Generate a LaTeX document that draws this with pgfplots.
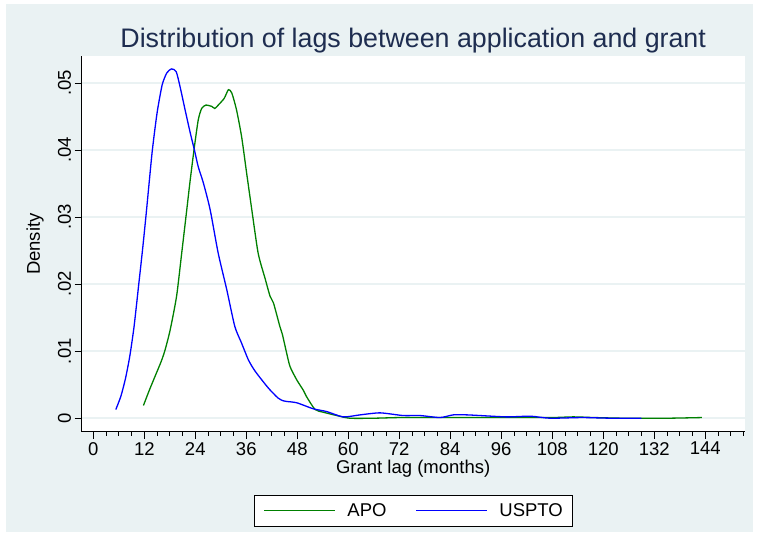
\documentclass[border=0pt]{standalone}
\usepackage{fontspec}
\setmainfont{Liberation Sans}
\usepackage{pgfplots}
\pgfplotsset{compat=1.18}
\definecolor{bgc}{RGB}{234,242,243}
\definecolor{gridc}{RGB}{234,242,243}
\definecolor{titlec}{RGB}{30,45,80}
\definecolor{apo}{RGB}{0,128,0}
\definecolor{uspto}{RGB}{0,0,255}
\pgfplotstableread{
m d
5.3 0.0013
6.5 0.0033
7.6 0.0060
8.6 0.0093
9.6 0.0137
10.7 0.0200
11.6 0.0252
12.4 0.0302
13.2 0.0355
13.9 0.0400
15.0 0.0455
16.2 0.0497
17.3 0.0515
18.4 0.0521
19.5 0.0517
20.4 0.0495
21.6 0.0460
22.8 0.0426
23.8 0.0400
24.7 0.0375
25.9 0.0351
27.5 0.0311
29.4 0.0246
31.4 0.0192
33.3 0.0137
34.9 0.0112
36.5 0.0087
38.1 0.0070
41.2 0.0045
43.5 0.0030
44.7 0.0026
45.5 0.0025
47.9 0.0023
51.8 0.0014
54.9 0.0010
58.8 0.0002
62.8 0.0005
67.5 0.0008
72.9 0.0004
76.9 0.0004
81.6 0.0001
84.7 0.0005
87.9 0.0005
91.0 0.0004
97.3 0.0002
102.9 0.0003
107.5 0.0000
115.0 0.0001
122.0 0.0000
129.0 0.0000
}\usptotab
\pgfplotstableread{
m d
11.8 0.0019
13.2 0.0042
14.5 0.0062
16.0 0.0085
16.9 0.0102
18.1 0.0132
19.6 0.0182
20.8 0.0246
22.0 0.0311
22.8 0.0355
23.8 0.0405
24.7 0.0445
25.5 0.0462
26.5 0.0467
27.9 0.0465
28.6 0.0462
29.4 0.0467
30.8 0.0477
31.8 0.0490
32.6 0.0485
33.7 0.0460
34.9 0.0420
36.1 0.0365
37.3 0.0311
38.8 0.0246
40.4 0.0209
41.6 0.0182
42.4 0.0172
43.9 0.0137
44.5 0.0125
45.4 0.0100
46.3 0.0077
47.9 0.0057
49.4 0.0042
50.2 0.0032
52.2 0.0013
54.1 0.0009
57.3 0.0004
60.4 0.0000
66.0 0.0000
72.0 0.0001
80.0 0.0001
90.0 0.0001
100.0 0.0001
108.0 0.0001
113.0 0.0002
118.0 0.0001
125.0 0.0000
135.0 0.0000
143.2 0.0001
}\apotab
\begin{document}
\begin{tikzpicture}
\useasboundingbox (-81.7bp,-110.3bp) rectangle (677.3bp,431.7bp);
\fill[white] (-81.7bp,-110.3bp) rectangle (677.3bp,431.7bp);
\fill[bgc] (-75.7bp,-100.3bp) rectangle (671.3bp,427.7bp);
\begin{axis}[
  at={(0bp,0bp)}, anchor=south west,
  scale only axis, width=663bp, height=375.2bp,
  xmin=-2.73, xmax=153.3, ymin=-0.00201, ymax=0.05395,
  axis background/.style={fill=white},
  axis x line*=bottom, axis y line*=left,
  axis line style={black, line width=0.8bp},
  xtick={0,12,...,144},
  minor xtick={3,6,9,15,18,21,27,30,33,39,42,45,51,54,57,63,66,69,75,78,81,87,90,93,99,102,105,111,114,117,123,126,129,135,138,141,147,150,153},
  ytick={0,0.01,0.02,0.03,0.04,0.05},
  yticklabels={0,.01,.02,.03,.04,.05},
  scaled y ticks=false,
  /pgf/number format/assume math mode=true,
  tick align=outside,
  major tick length=7bp, minor tick length=4bp,
  tick style={black, line width=0.8bp},
  ymajorgrids, grid style={gridc, line width=1.5bp},
  ticklabel style={font=\fontsize{18.5bp}{21bp}\selectfont},
  yticklabel style={rotate=90, anchor=south},
  xlabel={Grant lag (months)},
  xlabel style={font=\fontsize{18.5bp}{21bp}\selectfont, at={(axis description cs:0.5,-0.1127)}, anchor=base},
  ylabel={Density},
  ylabel style={font=\fontsize{18.5bp}{21bp}\selectfont, at={(axis description cs:-0.0704,0.5)}, anchor=center},
  title={Distribution of lags between application and grant},
  title style={font=\fontsize{26.8bp}{30bp}\selectfont, color=titlec, at={(axis description cs:0.5,1.008)}, anchor=base},
  legend columns=2,
  legend image code/.code={\draw[#1] (0bp,0bp) -- (71bp,0bp);},
  legend style={at={(axis description cs:0.5,-0.2106)}, anchor=center,
    draw=black, line width=0.8bp, fill=white,
    font=\fontsize{18.5bp}{21bp}\selectfont,
    inner xsep=9.5bp, inner ysep=8bp,
    nodes={inner sep=0bp},
    /tikz/every odd column/.append style={column sep=11.6bp},
    /tikz/every even column/.append style={column sep=29bp}},
]
\addplot[apo, line width=1.3bp, smooth, tension=0.4] table[x=m, y=d] {\apotab};
\addlegendentry{APO}
\addplot[uspto, line width=1.3bp, smooth, tension=0.4] table[x=m, y=d] {\usptotab};
\addlegendentry{USPTO}
\end{axis}
\end{tikzpicture}
\end{document}
